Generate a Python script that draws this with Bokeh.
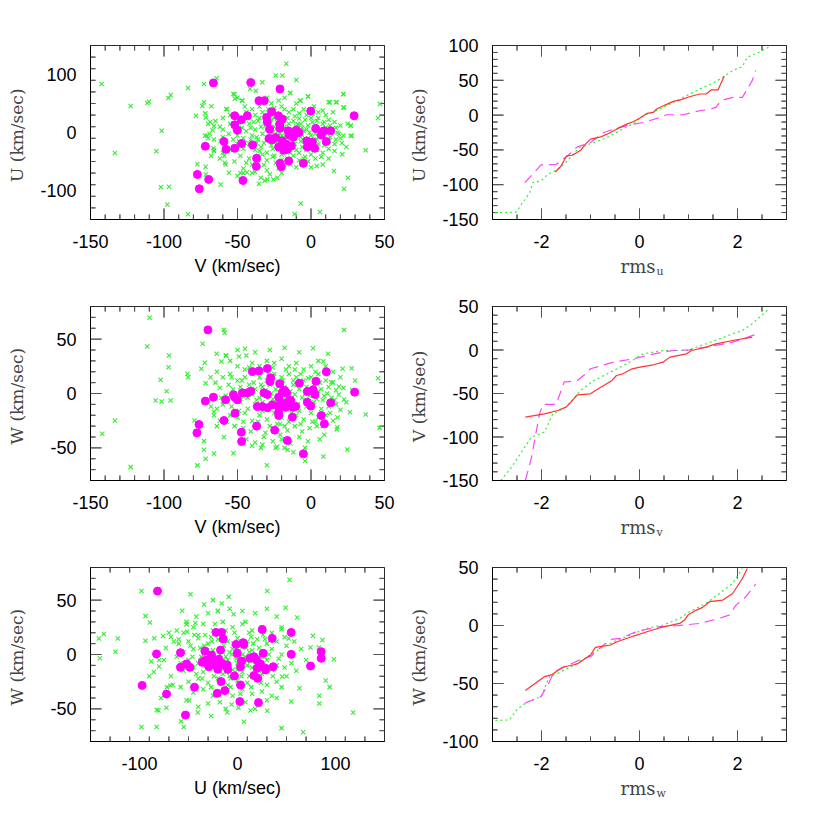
import numpy as np
from bokeh.plotting import figure
from bokeh.layouts import column, row
from bokeh.models import Range1d, SingleIntervalTicker, LinearAxis, CustomJSTickFormatter
from bokeh.core.properties import value
from bokeh.embed import file_html
from bokeh.resources import INLINE

# ---------------- scatter data ----------------
# panel 1: V (x) vs U (y)
green_vu = [
    (-142.4, 83.8), (-122.7, 45.7), (-111.4, 50.9), (-110.2, 53.2), (-97, 59.5), (-95.4, 64.7), (-83.7, 76.9),
    (-72.8, 83.8), (-64.2, 93.6), (-101.6, 2.9), (-133.4, -35.3), (-105.2, -32.4), (-102.1, -94.2), (-96.6, -93.6),
    (-97.7, -124.3), (-83.7, -141), (-78.2, 28.9), (-72.8, 52), (-73.9, 45.7), (-72, 33), (-71.5, 26), (-67.7, 45.1),
    (-68.5, 18), (-66, 11), (-67, 4), (-70.8, -6), (-69, -2), (-66.4, -27.2), (-66, -32), (-77.3, -54.9), (-71.7, -59),
    (-71.5, -72.3), (-61.5, -89.6), (-55.8, -69.4), (-58.5, -52), (-61.5, -15), (-59, -40), (-52.8, 66.5), (-46.7, 54.9),
    (-51.8, 58), (-57.6, 40.5), (-41.5, 75.1), (-37.5, 72), (-33.1, 86.7), (-24, 98.3), (-19.5, 98.3), (-16.8, 118.5),
    (-10, 90.7), (-14.3, 68.2), (-2, 62.4), (-7.5, 54.9), (12.9, 52), (17.5, 52), (22, 66.5), (22.5, 43.3), (46.9, 49.1),
    (45.6, 24.9), (27, 11.6), (27.7, -5.8), (37.2, -30.6), (21.3, -37.6), (15.6, -66.5), (25.2, -78), (22.5, -97.1),
    (3.9, -57.8), (-7, -122.5), (6.1, -137), (-11.1, -140.5), (-22.9, -78), (-25.6, -80.9), (-29.7, -80.9), (-34.2, -78),
    (-35.4, -88.4), (-31.5, -83), (-40, -70), (-43.5, -69), (-48, -70),
    (-52, 66), (-47, 55), (-50, 60), (-57, 40), (-45, 45), (-40, 40), (-35, 45), (-30, 60), (-27, 50), (-22, 55), (-18, 60),
    (-14, 68), (-10, 50), (-7, 55), (-2, 62), (-25, 42), (-20, 45), (-12, 40), (-5, 40), (2, 45), (5, 35), (8, 38), (12, 52),
    (17, 52), (22, 66), (22, 43), (15, 35), (10, 30), (-3, 30), (-8, 33), (-15, 35), (-33, 35), (-38, 30), (-44, 35),
    (-55, 30), (-60, 25), (-65, 20), (-70, 15), (-62, 10), (-55, 15), (-48, 20), (-42, 15), (-36, 20), (-30, 15), (-25, 25),
    (-20, 18), (-16, 25), (-12, 20), (-8, 24), (-4, 22), (0, 25), (4, 20), (8, 15), (12, 22), (16, 18), (20, 12), (25, 15),
    (27, 12), (30, 25), (-10, 10), (-6, 8), (-2, 12), (2, 8), (6, 5), (10, 8), (14, 5), (18, 0), (22, -5), (27, -6),
    (-14, 5), (-18, 10), (-22, 5), (-26, 0), (-30, 5), (-34, 10), (-38, 5), (-44, 2), (-50, -5), (-56, -2), (-60, -8),
    (-66, -12), (-70, -10), (-46, -10), (-40, -5), (-36, -12), (-32, -18), (-28, -5), (-24, -15), (-20, -5), (-16, -10),
    (-12, -15), (-8, -5), (-4, -10), (0, -5), (4, -12), (8, -8), (12, -15), (16, -20), (20, -10), (-2, -20), (-6, -25),
    (-10, -30), (-14, -35), (-18, -25), (-22, -30), (-26, -28), (-30, -35), (-34, -25), (-38, -30), (-42, -20), (-46, -28),
    (-50, -20), (-55, -30), (-60, -35), (-48, -40), (-42, -45), (-36, -40), (-30, -48), (-26, -42), (-20, -38), (-16, -45),
    (-12, -40), (-8, -35), (-4, -42), (0, -38), (4, -30), (8, -35), (12, -28), (16, -32), (-2, -50), (-8, -48), (-14, -55),
    (-24, -52), (-32, -56), (-40, -55), (-46, -62), (-52, -50), (-38, -68), (-30, -65), (-22, -62), (-10, -60), (0, -60),
    (8, -55), (12, -45), (-46, -70), (-50, -75), (-28, -72), (-20, -70), (-62, -45), (-66, -30), (-58, -55), (-68, -40),
    (-60, 5), (-72, -5), (-18, 40), (-28, 30), (-22, 30), (-5, 2), (-1, 0), (3, -2), (-9, -1), (-13, -2), (-17, 2),
    (-21, -2), (-33, -2), (-37, -8), (-29, -10), (-25, 10), (-11, 28), (1, 32), (5, 25), (9, 18), (13, 12), (17, 8),
    (19, -2), (-3, 5), (-7, 15), (-15, 15), (-19, 22), (-23, 18), (-27, 22), (-31, 28), (-35, 25), (-39, 18), (-43, 25),
    (-47, 8), (-51, 10), (-53, -12), (-49, -15), (-45, -18), (-41, -12), (-39, -22), (-35, -32), (-27, -22), (-23, -20),
    (-19, -18), (-15, -22), (-11, -20), (-7, -15), (-3, -18), (1, -15), (5, -20), (9, -22), (13, -8), (17, -12), (21, -18),
    (24, -25), (-1, -28), (3, -45), (7, -42), (-44, -52), (-36, -48), (-20, -48), (-6, -55),
    (-31, 12), (-27, -16), (-23, 2), (-19, -9), (-15, -28), (-11, 4), (-7, -8), (-3, -30), (1, 18), (5, -8), (9, 4),
    (-41, 8), (-37, -18), (-33, -38), (-29, 40), (-25, -40), (-17, -32), (-9, 14), (-5, -45), (3, 12), (11, -2),
]
magenta_vu = [
    (-66.4, 85.5), (-41.0, 86.1), (-21.1, 75.1), (-35.4, 54.9), (-31.8, 54.9), (-51.9, 28.9), (-43.3, 28.9), (-47.4, 22),
    (-51.9, 13.3), (-50.1, 4), (-26.8, 35.8), (-30.2, 26), (-29.7, 18), (-28.1, 5.8), (-22.2, 28.9), (-19.5, 23.1),
    (-21.3, 14.5), (-21.1, 7.5), (-15.6, 2.9), (-15, -4), (-10, 4), (-8.2, 0), (-0.2, 37), (3.2, 6.9), (8.8, 2.9), (7, -4),
    (13.4, 2.9), (10.4, -15.6), (29.3, 28.9), (-28.6, -10.4), (-26.3, -12.7), (-24, -8.7), (-19.5, -14.5), (-18.4, -30.6),
    (-16.1, -28.9), (-13.4, -23.1), (-15.2, -49.1), (-21.1, -53.2), (-20.2, -59), (-5.2, -53.2), (-2.9, -14.5),
    (-2.5, -24.9), (0.9, -16.2), (2.5, -27.2), (-59.2, -15.6), (-57.8, -28.9), (-51.9, -27.2), (-47.2, -19.1),
    (-39.7, -21.4), (-37, -44.5), (-37.2, -58.4), (-71.9, -23.7), (-77.3, -72.3), (-69.6, -80.9), (-76, -97.1),
    (-46.3, -82.7), (-17, -20), (-22, -25), (-12, -8),
]

# panel 2: V (x) vs W (y)
green_vw = [
    (-109.8, 69.6), (-111.4, 43.2), (-96.6, 35), (-96.9, 24.2), (-102.3, 12.6), (-98.2, 2.1), (-95.5, -6.4),
    (-105.7, -6.4), (-101.6, -7.4), (-133.4, -24.8), (-142, -37.1), (-122.7, -67.7), (-84.1, 18.1), (-83.5, 15),
    (-73.7, 45.7), (-72.3, 28.2), (-74.6, 22.7), (-71.7, 9.5), (-68.3, 15), (-79.2, -24.8), (-72.8, -43.8),
    (-72.8, -51.8), (-71.7, -60), (-77.3, -66.1), (-66, -55.2), (-59.2, 58.5), (-58.7, 55.8), (-64.2, 36.5),
    (-61, 29.4), (-57.6, 34.8), (-44.9, 41.1), (-49, 34), (-59.2, -40.2), (-52.8, -55), (-40, -48), (-33, -47),
    (-30, -66), (-23, -49), (-18, -50), (-12, -54), (-4, -62), (22.5, 58.5), (1.4, 41.7), (11.6, 36.5), (8.4, 29.4),
    (21.5, 22.7), (27.7, 23.3), (45.6, 14.1), (37.2, -19.3), (24.7, -51.5), (8.4, -57.9), (46.7, -31.6), (17.9, -31),
    (17.5, -33), (26.5, -17.2), (22.5, -5.5), (19, 6.4), (13.8, 10.4), (-64, -14), (-62, -25), (-66, -17),
    (-55, 30), (-50, 25), (-45, 22), (-40, 28), (-35, 25), (-30, 30), (-25, 28), (-20, 32), (-15, 25), (-10, 28), (-5, 22),
    (0, 25), (5, 30), (10, 25), (15, 20), (-60, 15), (-55, 18), (-50, 12), (-45, 15), (-40, 18), (-35, 15), (-30, 12),
    (-25, 18), (-20, 15), (-15, 18), (-10, 15), (-5, 12), (0, 15), (5, 18), (10, 12), (15, 10), (20, 15), (-62, 5),
    (-56, 8), (-48, 6), (-42, 8), (-38, 4), (-33, 6), (-28, 8), (-24, 4), (-18, 6), (-12, 8), (-8, 4), (-3, 6), (2, 8),
    (7, 4), (12, 6), (17, 3), (22, 5), (-58, -2), (-52, 0), (-46, -3), (-40, -1), (-35, -4), (-30, -2), (-26, -5),
    (-21, -1), (-16, -3), (-11, -1), (-6, -4), (-1, -2), (4, -5), (9, -2), (14, -4), (19, -1), (-60, -10), (-54, -12),
    (-48, -8), (-43, -14), (-38, -10), (-33, -16), (-28, -12), (-23, -8), (-18, -14), (-13, -10), (-8, -16), (-3, -12),
    (2, -8), (7, -14), (12, -12), (17, -10), (-55, -20), (-50, -22), (-45, -18), (-40, -25), (-35, -20), (-30, -24),
    (-25, -18), (-20, -22), (-15, -26), (-10, -20), (-5, -24), (0, -18), (5, -22), (10, -20), (15, -25), (-52, -30),
    (-46, -32), (-41, -35), (-36, -30), (-31, -36), (-26, -32), (-21, -38), (-16, -34), (-11, -30), (-6, -35), (-1, -32),
    (4, -30), (9, -38), (-44, -42), (-38, -45), (-32, -40), (-26, -44), (-20, -42), (-14, -46), (-8, -40), (-2, -44),
    (6, -42), (-34, -50), (-24, -50), (-16, -52), (-4, -50), (-66, -20), (-64, -30), (-68, -12), (-64, 20), (-58, 35),
    (-50, 40), (-44, 35), (-38, 38), (-28, 40), (-18, 42), (-8, 38), (-34, 8), (-22, 10), (-14, 2), (-9, 8), (-4, 0),
    (1, 4), (6, 10), (11, 0), (16, -6), (20, -15), (24, -8), (28, 3), (30, 12), (-27, 0), (-19, -6), (-23, -28),
    (-13, -18), (-7, -28), (-3, -6), (3, -26), (8, -30), (-37, -6), (-43, -4), (-49, -16), (-57, -26), (-29, 18),
    (-17, 22), (-7, 18), (3, 20), (-39, 10), (-47, 12), (-53, 4), (-33, -8), (-12, 12), (-2, 14), (8, -6), (13, -18),
    (18, -22), (-28, -30), (-18, -30), (-36, -26), (-46, -26), (-54, 15), (-42, 24), (-26, 24), (-11, 22), (-61, -4),
    (-65, 10),
    (-31, 3), (-25, -10), (-19, 12), (-13, -4), (-7, 8), (-1, -12), (5, 2), (-37, 20), (-21, -28), (-9, -10), (1, -26),
]
magenta_vw = [
    (-70.1, 58.5), (-39.9, 20.2), (-35.4, 20.8), (-29.7, 23), (-27.4, 14.4), (-27.9, 11), (-21.3, 8.9), (-7.9, 9.5),
    (3.4, 11.3), (10.4, 19.9), (29.7, 1.2), (13.4, -8.6), (-0.2, -11.6), (-2.5, -8), (-2.5, 1.8), (1.4, 3.4),
    (2.7, -0.9), (7, -20.2), (9.1, -27.9), (-5.2, -55.5), (-16.1, -43.2), (-24.7, -33.7), (-37, -30), (-47.4, -35.6),
    (-47.2, -44.1), (-59.2, -24.8), (-51.7, -18.1), (-58.1, -5.8), (-66.4, -3.4), (-71.9, -7), (-76.2, -28.5),
    (-77.6, -36.2), (-52.8, -1.2), (-51.9, -3.4), (-50.1, -5.8), (-46.7, 0.6), (-43.3, 0.6), (-41, 2.1), (-32, 0.6),
    (-29.7, -0.9), (-36.5, -12), (-33.1, -12), (-29.7, -13.2), (-26.3, -10.4), (-22, -3.4), (-22.2, -12), (-22, -17.2),
    (-22, -20.2), (-19.5, 1.2), (-17.9, 2.8), (-16.6, 0.3), (-20.6, -8), (-18.8, -9.5), (-17.2, -12.6), (-15.6, -8),
    (-13.8, -6.4), (-12.2, -12.6), (-12.7, -21.8), (-10.4, -11.9),
]

# panel 3: U (x) vs W (y)
green_uw = [
    (-141.5, 14.8), (-136.4, 18.8), (-140.5, -3.5), (-124.5, 2.6), (-122.1, 14.8), (-98, 58.3), (-93.9, 35.3),
    (-89.4, 29.5), (-93.9, 12.7), (-88.1, -6.5), (-85.4, -16), (-80, -11), (-80.6, -51.5), (-82.3, -51), (-72.5, -49),
    (-98, -66.6), (-82.6, -66.6), (-76, 17), (-68, 16), (-60, 14), (-73, 6), (-68.4, -28.6), (-66, -28), (-56.5, 40.2),
    (-52, 27.7), (-51.4, 21), (-48, 55.5), (-49.3, -42.4), (-57.5, -61.5), (-54.8, -66.6), (-40.5, -53.4),
    (-26.9, -56.5), (-43, 29), (-40, 18), (-34, 46), (-25, 50), (-16, 47), (-9, 53), (-4, 37), (-20, 40), (30.3, 58.3),
    (53.1, 68.7), (49, 43), (60.9, 34), (44.9, 23.3), (52.4, 14.8), (48, 15.8), (76.9, 17.2), (86.7, 13.3), (74.5, 6.5),
    (83, 6.5), (98.3, -4.4), (90, -24), (94, -30), (83.5, -38), (83.5, -45), (118, -53.4), (63.3, -31), (54.8, -43.3),
    (45.6, -20.3), (44.9, -67.7), (67, -71.4), (6.5, -61.8), (-10.5, -53.4), (13.3, -51.5), (30.3, -51.8), (1, -49),
    (-55, 20), (-45, 25), (-35, 28), (-25, 22), (-15, 30), (-5, 25), (5, 28), (15, 22), (25, 25), (35, 20), (45, 25),
    (-60, 10), (-50, 12), (-40, 15), (-30, 10), (-20, 14), (-10, 12), (0, 15), (10, 12), (20, 14), (30, 10), (40, 12),
    (50, 8), (-55, 2), (-45, 5), (-35, 0), (-25, 4), (-15, 2), (-5, 5), (5, 0), (15, 4), (25, 2), (35, 5), (45, 0),
    (-50, -5), (-40, -8), (-30, -4), (-20, -8), (-10, -5), (0, -8), (10, -4), (20, -8), (30, -5), (40, -10), (-55, -15),
    (-45, -12), (-35, -16), (-25, -12), (-15, -18), (-5, -14), (5, -16), (15, -12), (25, -18), (35, -14), (-50, -25),
    (-40, -22), (-30, -26), (-20, -22), (-10, -28), (0, -24), (10, -26), (20, -22), (30, -28), (40, -25), (-45, -35),
    (-35, -32), (-25, -38), (-15, -34), (-5, -38), (5, -32), (15, -36), (25, -34), (35, -38), (-30, -45), (-18, -44),
    (-6, -46), (8, -44), (22, -46), (-38, -6), (-32, -10), (-28, -2), (-22, -6), (-18, 0), (-12, -2), (-8, 2), (-2, -2),
    (2, 4), (8, -2), (12, 2), (18, -4), (22, 6), (28, -2), (-42, -18), (-36, -22), (-24, -20), (-16, -24), (-8, -20),
    (4, -20), (12, -20), (24, -26), (-48, 8), (-38, 6), (-26, 12), (-14, 8), (-4, 10), (6, 8), (16, 10), (28, 14),
    (-58, -8), (-62, -2), (-65, 12), (-70, 20), (-75, -5), (-68, -20), (-72, -30), (-58, -30), (55, -8), (60, -15),
    (58, 12), (65, 5), (70, -5), (50, -20), (45, -30), (40, -40), (-52, 30), (-42, 35), (-30, 38), (-20, 40), (-8, 42),
    (5, 40), (18, 38), (30, 42), (40, 35), (-85, 15), (-80, -5), (-90, -20), (-78, -40), (-52, -42), (-40, -48),
    (-12, -50), (18, -50), (30, -42), (-33, 18), (-23, 28), (-3, 20), (12, 20), (26, 18), (-27, -30), (-7, -30),
    (3, -36), (14, -30), (-46, -2), (-34, 8), (-16, -8), (-6, 0), (0, -14), (10, -10), (20, -14), (32, 0), (42, -4),
    (-44, 18), (-62, 22), (8, 30), (-12, 22), (-19, -14), (-1, 6), (14, 16), (36, -20), (48, -12),
    (-37, -2), (-31, 4), (-21, -12), (-11, -16), (-1, -4), (9, 6), (19, -10), (-27, 16), (-7, -22), (13, -6), (23, -2),
]
magenta_uw = [
    (-81.6, 58.3), (-97.3, -28.4), (-72.4, -36.4), (-53.1, -55.7), (-82.6, 0.5), (-58.2, 1.7), (-58.2, -11.8),
    (-52, -8.7), (-48.6, -11.8), (-43.9, -30.1), (-33.3, 3.2), (-36, -7.2), (-33.3, -5.5), (-31, -8.1), (-28.6, -4.4),
    (-29.2, -11.2), (-26.5, -0.5), (-24.1, -5), (-22.4, -9.6), (-20.1, -13.6), (-17.3, 4.1), (-19, -4.4),
    (-15.6, -8.1), (-21.8, 20.3), (-16.3, 20.3), (-14.6, 14.2), (-16.7, -24.9), (-12.9, -33.2), (-20.7, -35.7),
    (-11.6, -11.2), (-9.9, -13.6), (-10.5, -9.6), (-3.1, -19.7), (3.1, -28), (2.4, -43.3), (-1.4, 9.3), (6.5, 9.3),
    (5.8, 10.9), (4.1, -6), (3.1, -11.2), (-0.3, 1.1), (12.6, -3.5), (16.7, -2), (19.4, -5), (21.8, -11.2),
    (20.1, -12.7), (23.5, -8.7), (28.6, -12.7), (26.2, 1.1), (28.6, -14.2), (25.2, 23), (16.7, -19.4), (20.7, -21.9),
    (21.4, -44.2), (35.4, 14.8), (36.4, -11.2), (54.8, 20.3), (54.8, 0.2), (74.5, -10.6), (85.4, 2.6), (85.4, -3.5),
]

# ---------------- cumulative (rms) curves ----------------
u_red_rms = [-1.72, -1.60, -1.49, -1.37, -1.20, -1.10, -1.00, -0.79, -0.63, -0.47, -0.26, -0.12, 0.01, 0.15, 0.28, 0.35, 0.52, 0.69, 0.82, 1.02, 1.23, 1.36, 1.46, 1.60, 1.73]
u_red_val = [-81.7, -73.1, -58.7, -57.7, -50.5, -41.8, -34.6, -31.3, -26.4, -20.2, -13.0, -9.1, -4.3, 2.4, 3.8, 8.7, 14.4, 19.7, 21.6, 26.4, 30.3, 30.3, 36.1, 36.1, 55.8]
u_grn_rms = [-2.95, -2.51, -2.41, -2.24, -2.18, -2.01, -1.87, -1.67, -1.47, -1.33, -1.20, -0.93, -0.66, -0.39, -0.12, 0.08, 0.42, 0.69, 0.96, 1.23, 1.49, 1.70, 1.90, 2.10, 2.20, 2.44, 2.64]
u_grn_val = [-140.4, -139.4, -128.4, -111.5, -97.1, -94.7, -85.1, -77.9, -65.9, -53.8, -45.7, -39.4, -32.2, -21.6, -12.0, -1.0, 8.7, 18.3, 27.9, 37.5, 45.7, 54.3, 63.9, 69.7, 83.2, 90.4, 97.6]
u_mag_rms = [-2.34, -2.18, -2.01, -1.70, -1.47, -1.27, -1.00, -0.73, -0.46, -0.12, 0.08, 0.42, 0.55, 0.89, 1.16, 1.43, 1.56, 1.66, 1.90, 2.10, 2.30, 2.37]
u_mag_val = [-97.1, -85.1, -71.6, -70.7, -58.7, -45.7, -39.4, -25.0, -18.8, -13.0, -10.6, -3.4, 0.5, 0.5, 5.3, 8.7, 11.1, 20.7, 25.5, 25.5, 49.5, 63.9]

v_red_rms = [-2.33, -1.94, -1.67, -1.50, -1.40, -1.27, -1.00, -0.90, -0.73, -0.56, -0.47, -0.34, -0.15, 0.01, 0.28, 0.48, 0.62, 0.96, 1.06, 1.36, 1.56, 1.90, 2.30]
v_red_val = [-77.2, -73.4, -69.5, -65.7, -60.0, -51.5, -50.4, -46.5, -40.8, -35.0, -29.3, -27.4, -21.6, -19.7, -17.0, -14.0, -8.2, -4.4, -0.6, 3.3, 7.1, 10.9, 14.8]
v_grn_rms = [-2.83, -2.61, -2.21, -1.94, -1.77, -1.50, -1.20, -0.93, -0.66, -0.26, 0.08, 0.48, 0.96, 1.36, 1.63, 1.90, 2.10, 2.30, 2.64]
v_grn_val = [-150.0, -134.7, -100.2, -94.4, -73.4, -65.7, -46.5, -35.0, -27.4, -15.9, -4.4, -0.6, -0.6, 7.1, 12.8, 18.6, 22.4, 30.1, 47.3]
v_mag_rms = [-2.33, -2.21, -2.04, -1.97, -1.70, -1.54, -1.27, -1.10, -1.00, -0.53, -0.12, 0.15, 0.48, 0.69, 1.02, 1.36, 1.90, 2.37]
v_mag_val = [-150.0, -125.0, -73.4, -62.6, -62.6, -37.0, -35.0, -27.4, -21.6, -14.0, -10.1, -6.3, -2.5, -0.6, 0.2, 3.3, 9.0, 17.8]

w_red_rms = [-2.33, -1.94, -1.80, -1.57, -1.27, -1.00, -0.90, -0.59, -0.46, -0.12, 0.15, 0.42, 0.82, 0.92, 0.99, 1.16, 1.29, 1.43, 1.70, 1.90, 2.10, 2.20]
w_red_val = [-56.1, -44.1, -42.6, -36.0, -33.2, -25.4, -18.8, -16.8, -14.0, -9.1, -5.4, -1.9, 1.8, 4.7, 9.0, 13.3, 15.6, 20.5, 21.9, 27.6, 40.5, 49.1]
w_grn_rms = [-2.94, -2.65, -2.51, -2.28, -2.01, -1.84, -1.67, -1.33, -1.06, -0.79, -0.53, -0.19, 0.15, 0.48, 0.82, 1.02, 1.36, 1.63, 1.90, 2.10]
w_grn_val = [-81.9, -81.4, -72.8, -65.6, -61.3, -44.1, -41.2, -34.0, -26.9, -19.7, -14.0, -8.2, -2.5, 0.4, 6.1, 11.9, 19.0, 27.6, 36.2, 49.1]
w_mag_rms = [-2.34, -2.01, -1.87, -1.74, -1.40, -1.16, -1.00, -0.79, -0.59, -0.39, -0.12, 0.08, 0.42, 0.75, 1.23, 1.56, 1.83, 1.97, 2.17, 2.37]
w_mag_val = [-67.0, -61.3, -51.2, -39.8, -33.2, -28.3, -26.9, -18.8, -12.0, -11.1, -6.2, -3.9, -1.0, -0.2, 1.8, 5.3, 9.0, 17.6, 24.8, 35.7]

GREEN = "#33ee33"
MAGENTA = "#ff00ff"
RED = "#ff3333"
DASH_MAG = "#ff44ff"
TICK = "#555555"
SANS = "Liberation Sans"
SERIF = "DejaVu Serif"

FRAME_W = 294
FRAME_H = 174
BOTTOM_B = 62
RMS_AXIS_B = 36
MAJ_LEN = 11
MIN_LEN = 5


def add_ticks(p, xr, yr, xmaj, xmin, ymaj, ymin):
    # inward PGPLOT-style ticks: one comb-shaped polyline along each frame edge
    dx = (xr[1] - xr[0]) / FRAME_W   # data units per pixel
    dy = (yr[1] - yr[0]) / FRAME_H

    def tick_len(v, maj):
        return MAJ_LEN if abs(v / maj - round(v / maj)) < 1e-6 else MIN_LEN

    xt = [float(v) for v in np.arange(xr[0], xr[1] + xmin * 0.5, xmin) if xr[0] < v < xr[1]]
    yt = [float(v) for v in np.arange(yr[0], yr[1] + ymin * 0.5, ymin) if yr[0] < v < yr[1]]
    for edge, sign in ((yr[0], 1), (yr[1], -1)):
        px, py = [float(xr[0])], [float(edge)]
        for v in xt:
            px += [v, v, v]
            py += [edge, edge + sign * tick_len(v, xmaj) * dy, edge]
        px.append(float(xr[1]))
        py.append(float(edge))
        p.line(px, py, line_color=TICK, line_width=1)
    for edge, sign in ((xr[0], 1), (xr[1], -1)):
        px, py = [float(edge)], [float(yr[0])]
        for v in yt:
            px += [edge, edge + sign * tick_len(v, ymaj) * dx, edge]
            py += [v, v, v]
        px.append(float(edge))
        py.append(float(yr[1]))
        p.line(px, py, line_color=TICK, line_width=1)


def make_fig(xr, yr, xt, yt, xlabel, ylabel, bl, bt, bb, ylab_standoff):
    p = figure(frame_width=FRAME_W, frame_height=FRAME_H, x_range=Range1d(*xr), y_range=Range1d(*yr),
               x_axis_type=None, y_axis_type=None, output_backend="svg", toolbar_location=None,
               min_border_left=bl, min_border_top=bt, min_border_bottom=bb, min_border_right=20)
    p.outline_line_color = "black"
    p.outline_line_width = 1
    p.background_fill_color = "white"
    p.border_fill_color = "white"
    fmt = "return tick.toString()"
    xa = LinearAxis(ticker=SingleIntervalTicker(interval=xt[0], num_minor_ticks=0),
                    formatter=CustomJSTickFormatter(code=fmt))
    ya = LinearAxis(ticker=SingleIntervalTicker(interval=yt[0], num_minor_ticks=0),
                    formatter=CustomJSTickFormatter(code=fmt))
    for ax in (xa, ya):
        ax.major_tick_in = 0
        ax.major_tick_out = 0
        ax.minor_tick_in = 0
        ax.minor_tick_out = 0
        ax.axis_line_color = "black"
        ax.major_label_text_font = SANS
        ax.major_label_text_font_size = "18px"
        ax.major_label_text_color = "black"
        ax.axis_label_text_font_style = "normal"
    xa.major_label_standoff = 15
    ya.major_label_standoff = 14
    if xlabel:
        xa.axis_label = xlabel
        xa.axis_label_text_font = SANS
        xa.axis_label_text_font_size = "18px"
        xa.axis_label_text_color = "black"
        xa.axis_label_standoff = 5
    ya.axis_label = ylabel
    ya.axis_label_text_font = SERIF
    ya.axis_label_text_font_size = "17px"
    ya.axis_label_text_color = "#444444"
    ya.axis_label_standoff = ylab_standoff
    p.add_layout(xa, "below")
    p.add_layout(ya, "left")
    return p


def scatter_panel(xr, yr, xt, yt, xlabel, ylabel, green, mag, bt, ylab_standoff):
    p = make_fig(xr, yr, xt, yt, xlabel, ylabel, 90, bt, BOTTOM_B, ylab_standoff)
    add_ticks(p, xr, yr, xt[0], xt[0] / xt[1], yt[0], yt[0] / yt[1])
    p.scatter([a for a, b in green], [b for a, b in green], marker="x", size=6,
              line_color=GREEN, line_width=1.1)
    p.scatter([a for a, b in mag], [b for a, b in mag], marker="circle", size=8,
              fill_color=MAGENTA, line_color=MAGENTA)
    return p


def rms_panel(yr, ylabel, sub, red, grn, mag, bt):
    xr = (-3, 3)
    p = make_fig(xr, yr, (2, 4), (50, 5), "", ylabel, 88, bt, RMS_AXIS_B, 10)
    add_ticks(p, xr, yr, 2, 0.5, 50, 10)
    p.line(grn[0], grn[1], line_color=GREEN, line_width=1.2, line_dash="2 3")
    p.line(mag[0], mag[1], line_color=DASH_MAG, line_width=1.2, line_dash="10 6")
    p.line(red[0], red[1], line_color=RED, line_width=1.2)
    # strip underneath holding the x-axis title "rms" with its subscript
    h = BOTTOM_B - RMS_AXIS_B
    lab = figure(frame_width=FRAME_W, frame_height=h, x_range=Range1d(*xr),
                 y_range=Range1d(0, h), x_axis_type=None, y_axis_type=None,
                 output_backend="svg", toolbar_location=None, min_border_left=88, min_border_right=20,
                 min_border_top=0, min_border_bottom=0)
    lab.outline_line_color = None
    lab.background_fill_color = "white"
    lab.border_fill_color = "white"
    lab.text(x=[0], y=[BOTTOM_B - 47], text=["rms"], text_align="right", text_baseline="alphabetic",
             x_offset=16, text_font=value(SERIF), text_font_size="18px", text_color="#444444")
    lab.text(x=[0], y=[BOTTOM_B - 52], text=[sub], text_align="left", text_baseline="alphabetic",
             x_offset=17, text_font=value(SERIF), text_font_size="11px", text_color="#444444")
    return column(p, lab, spacing=0)


p1 = scatter_panel((-150, 50), (-150, 150), (50, 5), (100, 5), "V (km/sec)", "U  (km/sec)",
                   green_vu, magenta_vu, 45, 10)
p2 = rms_panel((-150, 100), "U  (km/sec)", "u", (u_red_rms, u_red_val), (u_grn_rms, u_grn_val),
               (u_mag_rms, u_mag_val), 45)
p3 = scatter_panel((-150, 50), (-80, 80), (50, 5), (50, 5), "V (km/sec)", "W  (km/sec)",
                   green_vw, magenta_vw, 25, 20)
p4 = rms_panel((-150, 50), "V  (km/sec)", "v", (v_red_rms, v_red_val), (v_grn_rms, v_grn_val),
               (v_mag_rms, v_mag_val), 25)
p5 = scatter_panel((-150, 150), (-80, 80), (100, 5), (50, 5), "U (km/sec)", "W  (km/sec)",
                   green_uw, magenta_uw, 25, 20)
p6 = rms_panel((-100, 50), "W  (km/sec)", "w", (w_red_rms, w_red_val), (w_grn_rms, w_grn_val),
               (w_mag_rms, w_mag_val), 25)

layout = column(row(p1, p2, spacing=0), row(p3, p4, spacing=0), row(p5, p6, spacing=0), spacing=0)
open("out.html", "w").write(file_html(layout, INLINE))
